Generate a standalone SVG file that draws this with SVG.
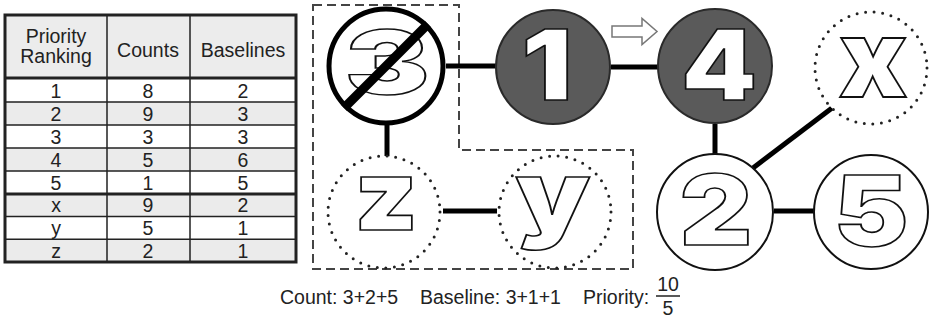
<svg xmlns="http://www.w3.org/2000/svg" width="930" height="322" viewBox="0 0 930 322">
  <style>
    .cell { font-family: "Liberation Sans", Arial, sans-serif; font-size: 19.5px; fill: #222; text-anchor: middle; }
    .grid { stroke: #222; stroke-width: 1.5; fill: none; }
    .shade { fill: #ebebeb; }
    .edge { stroke: #000; stroke-width: 5; fill: none; }
    .glyph { font-family: Inter, Roboto, "Open Sans", "DejaVu Sans", sans-serif; font-weight: 900; font-size: 98px; text-anchor: middle; fill: #fff; stroke: #111; stroke-width: 1.6; }
    .solid { fill: #fff; stroke: #111; stroke-width: 2; }
    .dark { fill: #5a5a5a; stroke: #2a2a2a; stroke-width: 2; }
    .dotted { fill: #fff; stroke: #222; stroke-width: 3; stroke-dasharray: 0 8.6; stroke-linecap: round; }
    .caption { font-family: "Liberation Sans", Arial, sans-serif; font-size: 19.5px; fill: #222; }
  </style>

  <!-- Priority table -->
  <g id="table">
    <rect x="5" y="15" width="291" height="63" fill="#ececec"/>
    <rect class="shade" x="5" y="102" width="291" height="23"/>
    <rect class="shade" x="5" y="148" width="291" height="23"/>
    <rect class="shade" x="5" y="194" width="291" height="22.5"/>
    <rect class="shade" x="5" y="239.3" width="291" height="22.7"/>
    <path class="grid" d="M5 78H296 M5 102H296 M5 125H296 M5 148H296 M5 171H296 M5 216.5H296 M5 239.3H296 M107 15V262 M190 15V262"/>
    <path d="M5 78H296 M5 194H296" stroke="#222" stroke-width="3"/>
    <rect x="5" y="15" width="291" height="247" fill="none" stroke="#222" stroke-width="3"/>
    <text class="cell" x="56" y="43">Priority</text>
    <text class="cell" x="56" y="63">Ranking</text>
    <text class="cell" x="148" y="57">Counts</text>
    <text class="cell" x="243" y="57">Baselines</text>
    <g>
      <text class="cell" x="56" y="97.5">1</text><text class="cell" x="148" y="97.5">8</text><text class="cell" x="243" y="97.5">2</text>
      <text class="cell" x="56" y="120.5">2</text><text class="cell" x="148" y="120.5">9</text><text class="cell" x="243" y="120.5">3</text>
      <text class="cell" x="56" y="143.5">3</text><text class="cell" x="148" y="143.5">3</text><text class="cell" x="243" y="143.5">3</text>
      <text class="cell" x="56" y="166.5">4</text><text class="cell" x="148" y="166.5">5</text><text class="cell" x="243" y="166.5">6</text>
      <text class="cell" x="56" y="189.5">5</text><text class="cell" x="148" y="189.5">1</text><text class="cell" x="243" y="189.5">5</text>
      <text class="cell" x="56" y="212">x</text><text class="cell" x="148" y="212">9</text><text class="cell" x="243" y="212">2</text>
      <text class="cell" x="56" y="235">y</text><text class="cell" x="148" y="235">5</text><text class="cell" x="243" y="235">1</text>
      <text class="cell" x="56" y="258">z</text><text class="cell" x="148" y="258">2</text><text class="cell" x="243" y="258">1</text>
    </g>
  </g>

  <!-- dashed grouping outline -->
  <path id="group-outline" d="M313 5H459V150H633V269H313Z" fill="none" stroke="#444" stroke-width="2" stroke-dasharray="9 5"/>

  <!-- connectors -->
  <g id="connectors">
    <path class="edge" d="M446 66H496"/>
    <path class="edge" d="M611 67H658"/>
    <path class="edge" d="M387 123V157"/>
    <path class="edge" d="M443 211H497"/>
    <path class="edge" d="M715 124V157"/>
    <path class="edge" d="M832 108L753 168"/>
    <path class="edge" d="M774 211H814"/>
  </g>

  <!-- hollow direction arrow -->
  <path id="arrow" d="M612 26H642V18.5L657 31.5L642 44.5V37H612Z" fill="#fff" stroke="#777" stroke-width="1.5"/>

  <!-- nodes -->
  <g id="node-3">
    <circle cx="386" cy="66" r="57" fill="#fff" stroke="#000" stroke-width="5"/>
    <text class="glyph" transform="translate(387 94) scale(1.3 0.9)">3</text>
    <path d="M428 24L344 108" stroke="#000" stroke-width="9"/>
  </g>
  <g id="node-1">
    <circle class="dark" cx="553" cy="67" r="57"/>
    <text class="glyph" transform="translate(547 100) scale(1.15 1)">1</text>
  </g>
  <g id="node-4">
    <circle class="dark" cx="715" cy="66" r="57"/>
    <text class="glyph" transform="translate(719 100) scale(1.1 1)">4</text>
  </g>
  <g id="node-x">
    <circle class="dotted" cx="871" cy="68" r="56"/>
    <text class="glyph" transform="translate(873 97) scale(1.15 1.1)">x</text>
  </g>
  <g id="node-z">
    <circle class="dotted" cx="384" cy="212" r="56"/>
    <text class="glyph" transform="translate(386 230) scale(1.1 1)">z</text>
  </g>
  <g id="node-y">
    <circle class="dotted" cx="555" cy="212" r="56"/>
    <text class="glyph" transform="translate(553 230) scale(1.2 1)">y</text>
  </g>
  <g id="node-2">
    <circle class="solid" cx="715" cy="212" r="58"/>
    <text class="glyph" transform="translate(716 245) scale(1.15 1)">2</text>
  </g>
  <g id="node-5">
    <circle class="solid" cx="871" cy="212" r="57"/>
    <text class="glyph" transform="translate(871 246) scale(1.15 1)">5</text>
  </g>

  <!-- score caption -->
  <g id="caption">
    <text class="caption" x="280" y="304">Count: 3+2+5</text>
    <text class="caption" x="420" y="304">Baseline: 3+1+1</text>
    <text class="caption" x="583" y="304">Priority:</text>
    <text class="caption" x="668" y="291" text-anchor="middle">10</text>
    <path d="M656 296H680" stroke="#222" stroke-width="1.5"/>
    <text class="caption" x="668" y="315" text-anchor="middle">5</text>
  </g>
</svg>
